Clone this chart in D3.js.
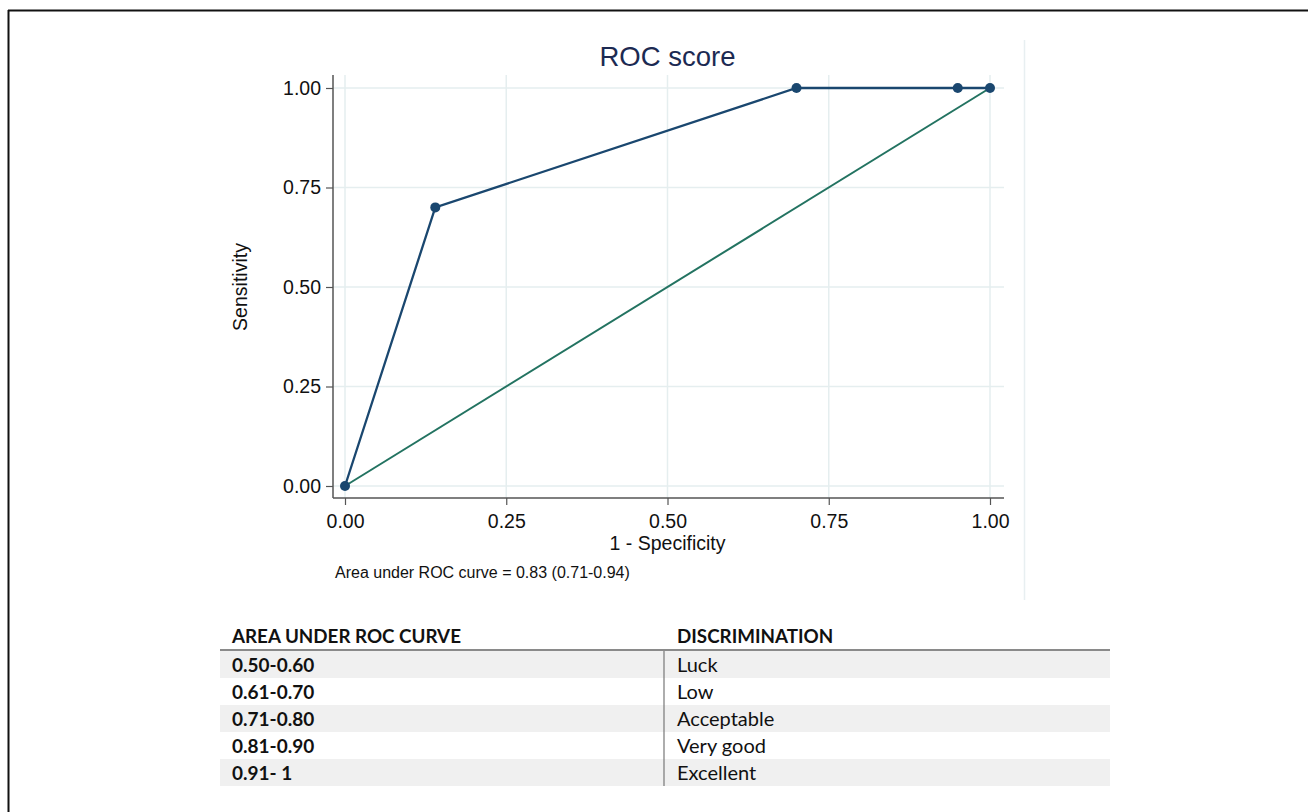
<!DOCTYPE html>
<html>
<head>
<meta charset="utf-8">
<script src="https://cdn.jsdelivr.net/npm/d3@7"></script>
<style>
  html, body { margin: 0; padding: 0; background: #fff; }
  svg { display: block; }
</style>
</head>
<body>
<svg id="chart" width="1308" height="812"></svg>
<script>
// ---- Data ----
const chartTitle = "ROC score";
const xAxisTitle = "1 - Specificity";
const yAxisTitle = "Sensitivity";
const aucNote = "Area under ROC curve = 0.83 (0.71-0.94)";
const rocFPR = [0.00, 0.14, 0.70, 0.95, 1.00];
const rocTPR = [0.00, 0.70, 1.00, 1.00, 1.00];
const refX = [0, 1];
const refY = [0, 1];
const xTickValues = [0, 0.25, 0.5, 0.75, 1];
const yTickValues = [0, 0.25, 0.5, 0.75, 1];
const tableHeaders = ["AREA UNDER ROC CURVE", "DISCRIMINATION"];
const aucRanges = ["0.50-0.60", "0.61-0.70", "0.71-0.80", "0.81-0.90", "0.91- 1"];
const discrimination = ["Luck", "Low", "Acceptable", "Very good", "Excellent"];

// ---- Layout ----
const svg = d3.select("#chart");
const navy = "#1a476f";
const green = "#237361";
const gridCol = "#e5eeef";
const axisFont = "'Liberation Sans', Arial, sans-serif";
const tableFont = "Lato, 'Open Sans', sans-serif";

const x = d3.scaleLinear().domain([0, 1]).range([345, 990]);
const y = d3.scaleLinear().domain([0, 1]).range([486, 88]);
const plotL = 333, plotR = 1004, plotT = 75, plotB = 498;

// outer border (top & left)
svg.append("line").attr("x1", 8).attr("x2", 1308).attr("y1", 10.5).attr("y2", 10.5)
  .attr("stroke", "#111").attr("stroke-width", 2);
svg.append("line").attr("x1", 8.5).attr("x2", 8.5).attr("y1", 10).attr("y2", 812)
  .attr("stroke", "#111").attr("stroke-width", 2);

// graph region right edge
svg.append("line").attr("x1", 1024.5).attr("x2", 1024.5).attr("y1", 40).attr("y2", 600)
  .attr("stroke", "#e8eff1").attr("stroke-width", 1.5);

// grid
const grid = svg.append("g");
grid.selectAll(".hg").data(yTickValues).join("line")
  .attr("x1", plotL).attr("x2", plotR)
  .attr("y1", d => y(d)).attr("y2", d => y(d))
  .attr("stroke", gridCol).attr("stroke-width", 1.5);
grid.selectAll(".vg").data(xTickValues).join("line")
  .attr("x1", d => x(d)).attr("x2", d => x(d))
  .attr("y1", plotT).attr("y2", plotB)
  .attr("stroke", gridCol).attr("stroke-width", 1.5);

// axes
const yAxis = d3.axisLeft(y).tickValues(yTickValues).tickFormat(d3.format(".2f"))
  .tickSize(7).tickSizeOuter(0).tickPadding(5);
const gy = svg.append("g").attr("transform", `translate(${plotL},0)`).call(yAxis);
gy.select(".domain").remove();
gy.selectAll("text").attr("font-family", axisFont).attr("font-size", 19.5).attr("fill", "#111");
gy.selectAll("line").attr("stroke", "#555").attr("stroke-width", 1.2);

const xAxis = d3.axisBottom(x).tickValues(xTickValues).tickFormat(d3.format(".2f"))
  .tickSize(7).tickSizeOuter(0).tickPadding(9);
const gx = svg.append("g").attr("transform", `translate(0,${plotB})`).call(xAxis);
gx.select(".domain").remove();
gx.selectAll("text").attr("font-family", axisFont).attr("font-size", 19.5).attr("fill", "#111");
gx.selectAll("line").attr("stroke", "#555").attr("stroke-width", 1.2);

svg.append("line").attr("x1", plotL).attr("x2", plotL).attr("y1", plotT).attr("y2", plotB)
  .attr("stroke", "#555").attr("stroke-width", 1.5);
svg.append("line").attr("x1", plotL).attr("x2", plotR).attr("y1", plotB).attr("y2", plotB)
  .attr("stroke", "#555").attr("stroke-width", 1.5);

// reference line
const refData = refX.map((v, i) => [v, refY[i]]);
svg.append("path").datum(refData)
  .attr("d", d3.line().x(d => x(d[0])).y(d => y(d[1])))
  .attr("fill", "none").attr("stroke", green).attr("stroke-width", 2);

// ROC curve
const rocData = rocFPR.map((v, i) => [v, rocTPR[i]]);
svg.append("path").datum(rocData)
  .attr("d", d3.line().x(d => x(d[0])).y(d => y(d[1])))
  .attr("fill", "none").attr("stroke", navy).attr("stroke-width", 2.3);
svg.selectAll(".pt").data(rocData).join("circle")
  .attr("cx", d => x(d[0])).attr("cy", d => y(d[1])).attr("r", 5)
  .attr("fill", navy);

// titles
svg.append("text").attr("x", x(0.5)).attr("y", 66).attr("text-anchor", "middle")
  .attr("font-family", axisFont).attr("font-size", 27.5).attr("fill", "#1c2a52").text(chartTitle);
svg.append("text").attr("x", x(0.5)).attr("y", 550).attr("text-anchor", "middle")
  .attr("font-family", axisFont).attr("font-size", 19.5).attr("fill", "#111").text(xAxisTitle);
svg.append("text").attr("transform", `translate(247,${y(0.5)}) rotate(-90)`).attr("text-anchor", "middle")
  .attr("font-family", axisFont).attr("font-size", 19.5).attr("fill", "#111").text(yAxisTitle);
svg.append("text").attr("x", 335).attr("y", 578)
  .attr("font-family", axisFont).attr("font-size", 16).attr("fill", "#111").text(aucNote);

// ---- Table ----
const tbl = svg.append("g");
const rowTop = 651, rowH = 27, tblL = 220, tblR = 1110, colX = 664;
const rows = aucRanges.map((r, i) => ({ range: r, label: discrimination[i], i }));
const rowY = d3.scaleLinear().domain([0, 1]).range([rowTop, rowTop + rowH]);

tbl.selectAll(".shade").data(rows.filter(r => r.i % 2 === 0)).join("rect")
  .attr("x", tblL).attr("width", tblR - tblL)
  .attr("y", d => rowY(d.i)).attr("height", rowH)
  .attr("fill", "#f0f0f0");
tbl.append("line").attr("x1", tblL).attr("x2", tblR).attr("y1", rowTop - 1).attr("y2", rowTop - 1)
  .attr("stroke", "#8a8a8a").attr("stroke-width", 2);
tbl.append("line").attr("x1", colX).attr("x2", colX).attr("y1", rowTop).attr("y2", rowY(rows.length))
  .attr("stroke", "#777").attr("stroke-width", 1.2);

tbl.selectAll(".hdr").data(tableHeaders).join("text")
  .attr("x", (d, i) => i === 0 ? 232 : 677).attr("y", 643)
  .attr("font-family", tableFont).attr("font-weight", "bold").attr("font-size", 18.8)
  .attr("fill", "#111").text(d => d);
tbl.selectAll(".rng").data(rows).join("text")
  .attr("x", 232).attr("y", d => rowY(d.i) + 21)
  .attr("font-family", tableFont).attr("font-weight", "bold").attr("font-size", 19)
  .attr("fill", "#111").text(d => d.range);
tbl.selectAll(".lbl").data(rows).join("text")
  .attr("x", 677).attr("y", d => rowY(d.i) + 21)
  .attr("font-family", tableFont).attr("font-size", 20)
  .attr("fill", "#111").text(d => d.label);
</script>
</body>
</html>
